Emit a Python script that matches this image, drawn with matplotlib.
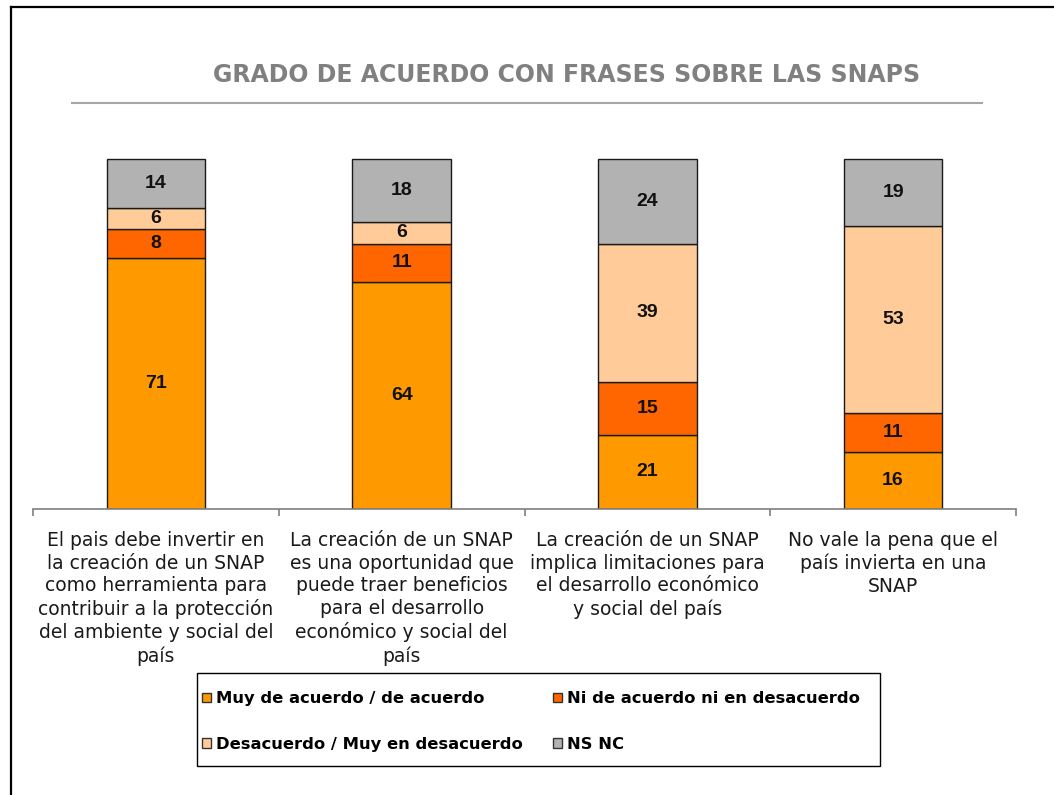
"""
Stacked bar chart: grado de acuerdo con frases sobre las SNAPs.
"""

import matplotlib

matplotlib.use("Agg")
import matplotlib.pyplot as plt
import numpy as np
from matplotlib.lines import Line2D
from matplotlib.patches import Patch, Rectangle

# ── data ───────────────────────────────────────────────────────────────
categories = [
    "El pais debe invertir en\nla creación de un SNAP\ncomo herramienta para\n"
    "contribuir a la protección\ndel ambiente y social del\npaís",
    "La creación de un SNAP\nes una oportunidad que\npuede traer beneficios\n"
    "para el desarrollo\neconómico y social del\npaís",
    "La creación de un SNAP\nimplica limitaciones para\nel desarrollo económico\n"
    "y social del país",
    "No vale la pena que el\npaís invierta en una\nSNAP",
]
muy_de_acuerdo = [71, 64, 21, 16]
ni_acuerdo = [8, 11, 15, 11]
desacuerdo = [6, 6, 39, 53]
ns_nc = [14, 18, 24, 19]

series_names = [
    "Muy de acuerdo / de acuerdo",
    "Ni de acuerdo ni en desacuerdo",
    "Desacuerdo / Muy en desacuerdo",
    "NS NC",
]
series_values = [muy_de_acuerdo, ni_acuerdo, desacuerdo, ns_nc]
colors = ["#FF9900", "#FF6600", "#FFCC99", "#B2B2B2"]

title = "GRADO DE ACUERDO CON FRASES SOBRE LAS SNAPS"

# ── figure ─────────────────────────────────────────────────────────────
W, H = 1054, 795
fig = plt.figure(figsize=(W / 100, H / 100), dpi=100)
ax = fig.add_axes([33 / W, (H - 509) / H, 983 / W, 354 / H])

x = np.arange(len(categories))
bottom = np.zeros(len(categories))
for name, vals, col in zip(series_names, series_values, colors):
    vals = np.array(vals, dtype=float)
    ax.bar(x, vals, width=0.4, bottom=bottom, color=col,
           edgecolor="#1a1a1a", linewidth=1.0, zorder=2)
    for xi, b, v in zip(x, bottom, vals):
        ax.text(xi, b + v / 2, f"{v:.0f}", ha="center", va="center",
                fontsize=14, fontweight="bold", family="Liberation Sans",
                color="#111111", zorder=3)
    bottom += vals

ax.set_xlim(-0.5, len(categories) - 0.5)
ax.set_ylim(0, 100)
for side in ["top", "right", "left"]:
    ax.spines[side].set_visible(False)
ax.spines["bottom"].set_color("#7f7f7f")
ax.spines["bottom"].set_linewidth(1.2)
ax.set_yticks([])
ax.set_xticks(np.arange(-0.5, len(categories), 1.0))
ax.set_xticklabels([])
ax.tick_params(axis="x", length=5, width=1.2, color="#7f7f7f", direction="out")

# category labels under the axis
for xi, lab in zip(x, categories):
    ax.text(xi, -0.062, lab, transform=ax.get_xaxis_transform(),
            ha="center", va="top", fontsize=13.5, color="#1a1a1a",
            linespacing=1.25)

# title + rule
fig.text(567 / W, 1 - 75 / H, title, ha="center", va="center",
         fontsize=17, fontweight="bold", color="#808080")
fig.add_artist(Line2D([72 / W, 982 / W], [1 - 103 / H, 1 - 103 / H],
                      color="#a6a6a6", lw=1.5))

# border (left and top only, as in the cropped original)
fig.add_artist(Line2D([11 / W, 11 / W], [0, 1 - 7 / H], color="black", lw=1.6))
fig.add_artist(Line2D([11 / W, 1], [1 - 7 / H, 1 - 7 / H], color="black", lw=1.6))

# legend box drawn separately: the original has extra room on the right
fig.add_artist(Rectangle((197 / W, 1 - 766 / H), 683 / W, 93 / H,
                         transform=fig.transFigure, facecolor="none",
                         edgecolor="black", linewidth=1.0))

# legend (column-wise fill: order so rows read like the original)
order = [0, 2, 1, 3]
handles = [Patch(facecolor=colors[i], edgecolor="#333333", linewidth=1.0)
           for i in order]
labels = [series_names[i] for i in order]
leg = fig.legend(handles, labels, ncol=2, loc="center", mode="expand",
                 bbox_to_anchor=(197 / W, 1 - 768 / H, 668 / W, 93 / H),
                 frameon=False,
                 handlelength=0.55, handleheight=0.55, handletextpad=0.3,
                 columnspacing=1.0, labelspacing=1.85, borderpad=0.3,
                 borderaxespad=0.0,
                 prop={"weight": "bold", "size": 11.8})

fig.savefig("out.png", dpi=100)
